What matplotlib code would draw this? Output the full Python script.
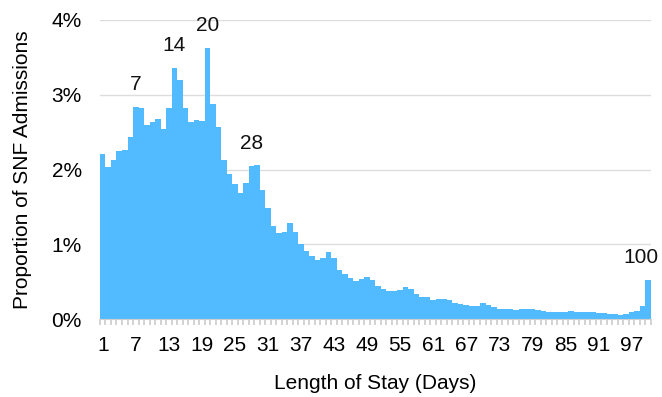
import numpy as np
import matplotlib
matplotlib.use("Agg")
import matplotlib.pyplot as plt
from matplotlib.ticker import FuncFormatter, MultipleLocator

# length of stay (days) and share of SNF admissions (%)
days = list(range(1, 101))
share = [
    2.21, 2.04, 2.13, 2.25, 2.26, 2.43, 2.84, 2.82, 2.60, 2.63,
    2.68, 2.54, 2.82, 3.36, 3.20, 2.82, 2.64, 2.66, 2.65, 3.63,
    2.88, 2.57, 2.13, 1.94, 1.80, 1.69, 1.82, 2.05, 2.06, 1.73,
    1.48, 1.24, 1.15, 1.16, 1.28, 1.17, 1.00, 0.91, 0.85, 0.79,
    0.82, 0.90, 0.82, 0.66, 0.61, 0.55, 0.51, 0.54, 0.56, 0.52,
    0.44, 0.40, 0.37, 0.37, 0.39, 0.43, 0.40, 0.33, 0.29, 0.29,
    0.25, 0.27, 0.27, 0.25, 0.21, 0.20, 0.19, 0.17, 0.18, 0.21,
    0.19, 0.16, 0.14, 0.13, 0.13, 0.12, 0.13, 0.14, 0.13, 0.12,
    0.11, 0.10, 0.10, 0.10, 0.10, 0.11, 0.10, 0.09, 0.09, 0.09,
    0.08, 0.08, 0.07, 0.07, 0.06, 0.07, 0.09, 0.11, 0.17, 0.53,
]
labelled_days = [7, 14, 20, 28, 100]
tick_days = list(range(1, 100, 6))

plt.rcParams['font.family'] = ['Liberation Sans', 'DejaVu Sans']

fig, ax = plt.subplots(figsize=(6.62, 3.97), dpi=100)
fig.subplots_adjust(left=0.151, right=0.983, bottom=0.196, top=0.950)

ax.bar(days, share, width=1.0, color='#52BBFF', linewidth=0, zorder=2)

for d in labelled_days:
    # last label pulled left a little so it stays inside the figure
    dx = -5 if d == days[-1] else 0
    ax.annotate(str(d), (d, share[d - 1]), xytext=(dx, 9),
                textcoords='offset points', ha='center', va='bottom',
                fontsize=15, color='#111111')

ax.set_xlim(0.5, 100.5)
ax.set_ylim(0, 4)
ax.yaxis.set_major_locator(MultipleLocator(1))
ax.yaxis.set_major_formatter(FuncFormatter(lambda v, p: f"{v:.0f}%"))
ax.grid(axis='y', color='#DDDDDD', linewidth=1, zorder=0)
ax.set_axisbelow(True)

ax.set_xticks(tick_days)
ax.set_xticks(np.arange(0.5, 101, 1), minor=True)
ax.tick_params(axis='x', which='major', length=0, pad=12, labelsize=15)
ax.tick_params(axis='x', which='minor', length=4, width=1.2, color='#CCCCCC')
ax.tick_params(axis='y', length=0, pad=13, labelsize=15)

for s in ['top', 'right', 'left']:
    ax.spines[s].set_visible(False)
ax.spines['bottom'].set_color('#D0D0D0')

ax.set_xlabel('Length of Stay (Days)', fontsize=15, labelpad=14)
ax.set_ylabel('Proportion of SNF Admissions', fontsize=15, labelpad=14)

fig.savefig('out.png', dpi=100)
